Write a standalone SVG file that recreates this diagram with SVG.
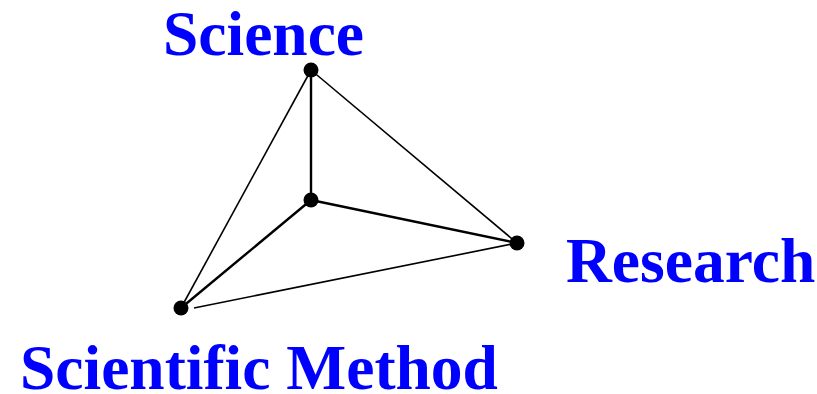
<svg xmlns="http://www.w3.org/2000/svg" width="817" height="394" viewBox="0 0 817 394">
<style>
.lbl{font-family:"Liberation Serif","Times New Roman",serif;font-weight:bold;font-size:63.5px;fill:#0000FF}
.thin{stroke:#000;stroke-width:1.6;fill:none}
.thick{stroke:#000;stroke-width:2.4;fill:none}
.dot{fill:#000}
</style>
<rect width="817" height="394" fill="#fff"/>
<g id="connectors">
<line class="thin" x1="311" y1="70" x2="517" y2="243"/>
<line class="thin" x1="311" y1="70" x2="181" y2="308"/>
<line class="thick" x1="311" y1="70" x2="311" y2="200"/>
<line class="thick" x1="311" y1="200" x2="181" y2="308"/>
<line class="thick" x1="311" y1="200" x2="517" y2="243"/>
<line class="thin" x1="194" y1="308" x2="517" y2="243"/>
</g>
<g id="science"><circle class="dot" cx="311" cy="70" r="7.5"/><text class="lbl" x="163" y="55">Science</text></g>
<g id="center"><circle class="dot" cx="311" cy="200" r="7.5"/></g>
<g id="research"><circle class="dot" cx="517" cy="243" r="7.5"/><text class="lbl" x="566" y="282">Research</text></g>
<g id="method"><circle class="dot" cx="181" cy="308" r="7.5"/><text class="lbl" x="20" y="389">Scientific Method</text></g>
</svg>
